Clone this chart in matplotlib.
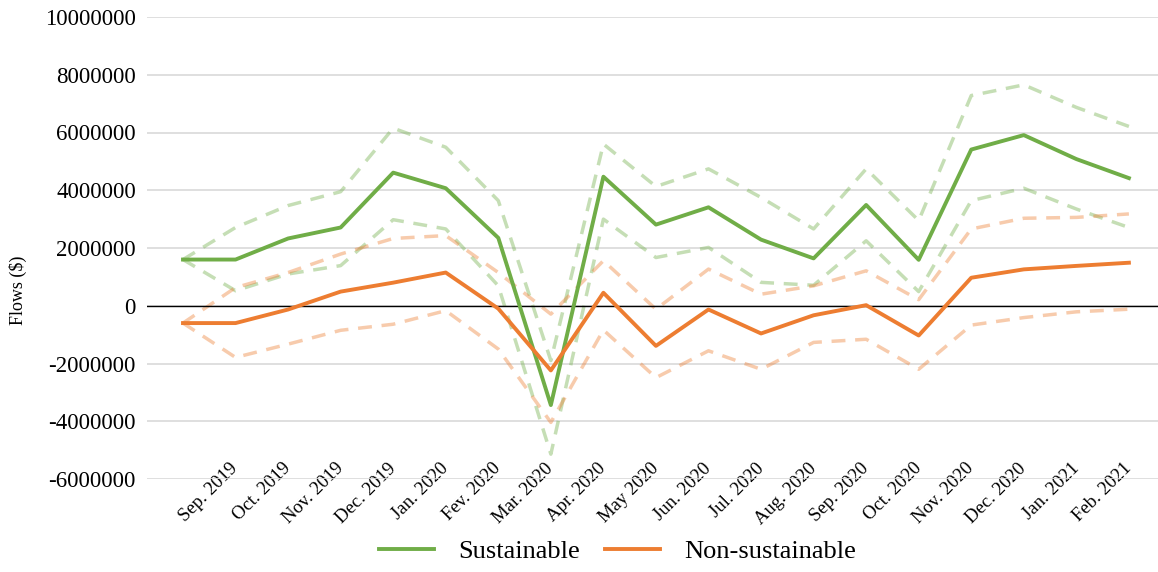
import matplotlib
matplotlib.use("Agg")
import matplotlib.pyplot as plt
from matplotlib.ticker import FuncFormatter, MultipleLocator

plt.rcParams['font.family'] = ['Liberation Serif', 'DejaVu Serif']

# months (first point has no label on the axis)
months = ['', 'Sep. 2019', 'Oct. 2019', 'Nov. 2019', 'Dec. 2019', 'Jan. 2020',
          'Fev. 2020', 'Mar. 2020', 'Apr. 2020', 'May 2020', 'Jun. 2020',
          'Jul. 2020', 'Aug. 2020', 'Sep. 2020', 'Oct. 2020', 'Nov. 2020',
          'Dec. 2020', 'Jan. 2021', 'Feb. 2021']

# flows in millions of $
sust = [1.60, 1.60, 2.33, 2.71, 4.61, 4.07, 2.35, -3.44, 4.47, 2.81,
        3.41, 2.29, 1.64, 3.49, 1.59, 5.41, 5.91, 5.08, 4.42]
sust_hi = [1.60, 2.71, 3.47, 3.95, 6.15, 5.49, 3.64, -1.90, 5.60, 4.13,
           4.74, 3.75, 2.66, 4.74, 2.95, 7.28, 7.65, 6.87, 6.21]
sust_lo = [1.60, 0.52, 1.10, 1.39, 2.98, 2.66, 0.69, -5.14, 3.00, 1.67,
           2.02, 0.81, 0.71, 2.25, 0.49, 3.64, 4.07, 3.35, 2.71]

nonsust = [-0.60, -0.60, -0.13, 0.49, 0.80, 1.15, -0.10, -2.24, 0.45, -1.39,
           -0.13, -0.96, -0.33, 0.02, -1.03, 0.97, 1.26, 1.38, 1.49]
nonsust_hi = [-0.60, 0.63, 1.15, 1.79, 2.33, 2.43, 1.15, -0.29, 1.56, -0.12,
              1.27, 0.40, 0.69, 1.21, 0.21, 2.66, 3.03, 3.06, 3.18]
nonsust_lo = [-0.60, -1.79, -1.33, -0.85, -0.64, -0.17, -1.50, -4.04, -0.84, -2.49,
              -1.56, -2.20, -1.27, -1.16, -2.20, -0.67, -0.41, -0.21, -0.12]

GREEN = '#70AD47'
ORANGE = '#ED7D31'

x = list(range(len(months)))
m = lambda v: [a * 1e6 for a in v]

fig = plt.figure(figsize=(11.58, 5.72), dpi=100)
ax = fig.add_axes([147 / 1158, 1 - 479 / 572, (1158 - 147) / 1158, (479 - 17) / 572])

dash = dict(lw=2.5, alpha=0.4, dashes=(4, 2.8), solid_capstyle='butt')
ax.plot(x, m(sust_hi), color=GREEN, **dash)
ax.plot(x, m(sust_lo), color=GREEN, **dash)
ax.plot(x, m(nonsust_hi), color=ORANGE, **dash)
ax.plot(x, m(nonsust_lo), color=ORANGE, **dash)

ax.plot(x, m(sust), color=GREEN, lw=2.8, label='Sustainable', zorder=4)
ax.plot(x, m(nonsust), color=ORANGE, lw=2.8, label='Non-sustainable', zorder=4)

ax.axhline(0, color='black', lw=1.0, zorder=3)

ax.set_ylim(-6e6, 10e6)
ax.set_xlim(-(183 - 147) / 52.55, (1158 - 183) / 52.55)
ax.yaxis.set_major_locator(MultipleLocator(2e6))
ax.yaxis.set_major_formatter(FuncFormatter(lambda v, p: str(int(round(v)))))
ax.grid(axis='y', color='#d9d9d9', lw=1.2)
ax.set_axisbelow(True)
for s in ax.spines.values():
    s.set_visible(False)

ax.set_xticks(x)
ax.set_xticklabels(months, rotation=45, ha='right', va='center',
                   rotation_mode='anchor', fontsize=13.5)
ax.tick_params(axis='x', length=0, pad=-9.5)
ax.tick_params(axis='y', length=0, pad=8, labelsize=16.5)

fig.text(18 / 1158, 1 - 290 / 572, 'Flows ($)', rotation=90,
         ha='center', va='center', fontsize=13)

fig.legend(loc='center', bbox_to_anchor=(618 / 1158, 1 - 551 / 572),
           ncol=2, frameon=False, fontsize=19, handlelength=2.05,
           handletextpad=0.95, columnspacing=0.95)

fig.savefig('out.png', dpi=100)
